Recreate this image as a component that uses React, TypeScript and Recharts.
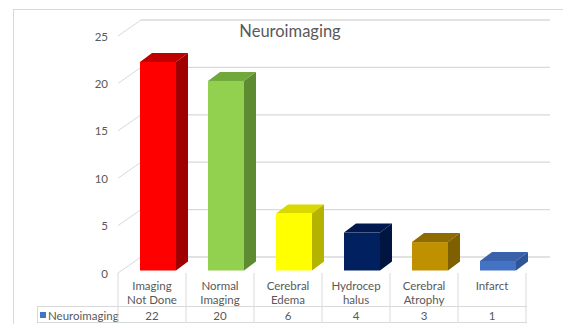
import React from 'react';
import { BarChart, Bar, XAxis, YAxis, CartesianGrid } from 'recharts';

const categories = ['Imaging Not Done', 'Normal Imaging', 'Cerebral Edema', 'Hydrocephalus', 'Cerebral Atrophy', 'Infarct'];
const categoryLines = [['Imaging', 'Not Done'], ['Normal', 'Imaging'], ['Cerebral', 'Edema'], ['Hydrocep', 'halus'], ['Cerebral', 'Atrophy'], ['Infarct']];
const counts = [22, 20, 6, 4, 3, 1];
const yTicks = [0, 5, 10, 15, 20, 25];
const seriesName = 'Neuroimaging';

const palette = [
  { front: '#FF0000', side: '#A00000', top: '#C00000' },
  { front: '#92D050', side: '#5E8A32', top: '#70A83C' },
  { front: '#FFFF00', side: '#B3B300', top: '#D9D900' },
  { front: '#002060', side: '#001640', top: '#001A50' },
  { front: '#BF9000', side: '#7F6000', top: '#8F6C00' },
  { front: '#4472C4', side: '#2F5597', top: '#3A62AA' },
];

const data = categories.map((name, i) => ({ name, value: counts[i] }));

const FONT = 'Lato, "Open Sans", sans-serif';
const TEXT = '#595959';
const GRID = '#D9D9D9';
const HALF_BAND = 34;

const Bar3D = (props: any) => {
  const { x, y, width, height, index } = props;
  const fx = x + 6;
  const fy = y - 2.5;
  const dx = 12;
  const dy = 9;
  const c = palette[index];
  return (
    <g>
      <polygon points={`${fx},${fy} ${fx + dx},${fy - dy} ${fx + width + dx},${fy - dy} ${fx + width},${fy}`} fill={c.top} />
      <polygon points={`${fx + width},${fy} ${fx + width + dx},${fy - dy} ${fx + width + dx},${fy + height - dy} ${fx + width},${fy + height}`} fill={c.side} />
      <rect x={fx} y={fy} width={width} height={height} fill={c.front} />
    </g>
  );
};

const GridLine3D = (props: any) => {
  const { x1, x2, y1 } = props;
  return (
    <g key={props.key}>
      <line x1={x1} y1={y1} x2={x1 + 23} y2={y1 - 16} stroke={GRID} strokeWidth={1} />
      <line x1={x1 + 23} y1={y1 - 16} x2={x2 + 24} y2={y1 - 16} stroke={GRID} strokeWidth={1.3} />
    </g>
  );
};

const YTick = (props: any) => {
  const { y, payload } = props;
  return (
    <text x={108} y={y} textAnchor="end" dominantBaseline="central" fontSize={11.5} fontFamily={FONT} fill={TEXT}>
      {payload.value}
    </text>
  );
};

const XTick = (props: any) => {
  const { x, index } = props;
  const lines = categoryLines[index];
  const left = x - HALF_BAND;
  const right = x + HALF_BAND;
  return (
    <g>
      <line x1={left} y1={273} x2={left} y2={323} stroke={GRID} />
      {index === categories.length - 1 && <line x1={right} y1={273} x2={right} y2={323} stroke={GRID} />}
      {lines.map((t, k) => (
        <text key={k} x={x} y={285 + k * 14} textAnchor="middle" dominantBaseline="central" fontSize={11.5} fontFamily={FONT} fill={TEXT}>
          {t}
        </text>
      ))}
      <text x={x} y={315} textAnchor="middle" dominantBaseline="central" fontSize={11.5} fontFamily={FONT} fill={TEXT}>
        {counts[index]}
      </text>
    </g>
  );
};

export default function App() {
  return (
    <div style={{ position: 'absolute', left: 0, top: 0, width: 563, height: 324, background: '#fff' }}>
      <svg width={563} height={324} style={{ position: 'absolute', left: 0, top: 0 }}>
        <rect x={13.5} y={9.5} width={560} height={330} fill="#fff" stroke={GRID} />
        <line x1={37} y1={306.5} x2={527} y2={306.5} stroke={GRID} />
        <line x1={37} y1={322.5} x2={527} y2={322.5} stroke={GRID} />
        <line x1={37.5} y1={306} x2={37.5} y2={323} stroke={GRID} />
        <rect x={40} y={312} width={6} height={6} fill="#4472C4" />
        <text x={48} y={315} dominantBaseline="central" fontSize={11.5} fontFamily={FONT} fill={TEXT}>
          {seriesName}
        </text>
      </svg>
      <div style={{ position: 'absolute', left: 0, top: 0 }}>
        <BarChart width={563} height={324} data={data} margin={{ top: 36, right: 37, bottom: 0, left: 0 }} barSize={36}>
          <CartesianGrid vertical={false} horizontal={GridLine3D} />
          <XAxis dataKey="name" height={51} interval={0} tickLine={false} axisLine={false} tick={<XTick />} />
          <YAxis width={118} domain={[0, 25]} ticks={yTicks} interval={0} tickLine={false} axisLine={false} tick={<YTick />} />
          <Bar dataKey="value" name={seriesName} shape={<Bar3D />} isAnimationActive={false} />
          <text x={290} y={31} textAnchor="middle" dominantBaseline="central" fontSize={16.5} fontFamily={FONT} fill={TEXT}>
            Neuroimaging
          </text>
        </BarChart>
      </div>
    </div>
  );
}
